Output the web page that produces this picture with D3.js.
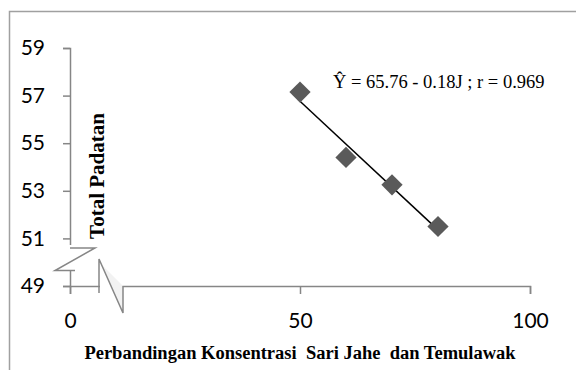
<!DOCTYPE html>
<html>
<head>
<meta charset="utf-8">
<script src="https://cdn.jsdelivr.net/npm/d3@7.9.0/dist/d3.min.js"></script>
<style>
  body { margin: 0; background: #fff; }
  svg { display: block; }
</style>
</head>
<body>
<svg id="chart" width="576" height="370"></svg>
<script>
// data
const ratioX = [50, 60, 70, 80];
const totalSolids = [57.15, 54.4, 53.25, 51.5];
const xTicks = [0, 50, 100];
const yTicks = [49, 51, 53, 55, 57, 59];
const fitIntercept = 65.76, fitSlope = -0.18;
const fitRange = [50, 80];
const equationLabel = "Ŷ = 65.76 - 0.18J ; r = 0.969";

const svg = d3.select("#chart");
const axisColor = "#868686";
const serif = "'Liberation Serif', 'Times New Roman', serif";

const x = d3.scaleLinear().domain([0, 100]).range([70, 530]);
const y = d3.scaleLinear().domain([49, 59]).range([286, 48]);

// outer frame (top and left edges visible)
svg.append("path")
    .attr("d", "M9.5,370 V11.5 H576")
    .attr("fill", "none")
    .attr("stroke", "#a0a0a0")
    .attr("stroke-width", 1.5);

// axes
const yAxis = svg.append("g")
    .attr("transform", `translate(${x(0)},0)`)
    .call(d3.axisLeft(y).tickValues(yTicks).tickSize(7).tickPadding(18));

const xAxis = svg.append("g")
    .attr("transform", `translate(0,${y(49)})`)
    .call(d3.axisBottom(x).tickValues(xTicks).tickSize(8).tickPadding(19));

[yAxis, xAxis].forEach(g => {
    g.selectAll("path, line").attr("stroke", axisColor).attr("stroke-width", 1.5);
    g.selectAll("text")
        .attr("font-family", "Lato, 'Open Sans', sans-serif")
        .attr("font-size", 21)
        .attr("fill", "#000");
});

// axis break marks
svg.append("rect").attr("x", 60).attr("y", 245).attr("width", 20).attr("height", 26).attr("fill", "#fff");
svg.append("rect").attr("x", 100).attr("y", 280).attr("width", 22).attr("height", 12).attr("fill", "#fff");

svg.append("polygon")
    .attr("points", "99,259 123,313 123,286 99,262")
    .attr("fill", "#f2f2f2");

svg.append("path")
    .attr("d", "M70,248 H95 L55,270.5 H75")
    .attr("fill", "none")
    .attr("stroke", axisColor)
    .attr("stroke-width", 1.5);

svg.append("path")
    .attr("d", "M99,293 V259 L123,313 V286")
    .attr("fill", "none")
    .attr("stroke", axisColor)
    .attr("stroke-width", 1.5);

// axis titles
svg.append("text")
    .attr("transform", "translate(104,176) rotate(-90)")
    .attr("text-anchor", "middle")
    .attr("font-family", serif)
    .attr("font-weight", "bold")
    .attr("font-size", 21)
    .text("Total Padatan");

svg.append("text")
    .attr("x", 300)
    .attr("y", 359)
    .attr("text-anchor", "middle")
    .attr("font-family", serif)
    .attr("font-weight", "bold")
    .attr("font-size", 18.5)
    .style("white-space", "pre")
    .text("Perbandingan Konsentrasi  Sari Jahe  dan Temulawak");

// regression line
svg.append("line")
    .attr("x1", x(fitRange[0]))
    .attr("y1", y(fitIntercept + fitSlope * fitRange[0]))
    .attr("x2", x(fitRange[1]))
    .attr("y2", y(fitIntercept + fitSlope * fitRange[1]))
    .attr("stroke", "#000")
    .attr("stroke-width", 1.5);

// diamond markers
const diamond = d3.symbol().type(d3.symbolDiamond2).size(170);
svg.selectAll("path.pt")
    .data(ratioX.map((v, i) => [v, totalSolids[i]]))
    .enter()
    .append("path")
    .attr("class", "pt")
    .attr("transform", d => `translate(${x(d[0])},${y(d[1])}) scale(1.3)`)
    .attr("d", diamond)
    .attr("fill", "#5a5a5a");

svg.append("text")
    .attr("x", 333)
    .attr("y", 88)
    .attr("font-family", serif)
    .attr("font-size", 18.5)
    .text(equationLabel);
</script>
</body>
</html>
